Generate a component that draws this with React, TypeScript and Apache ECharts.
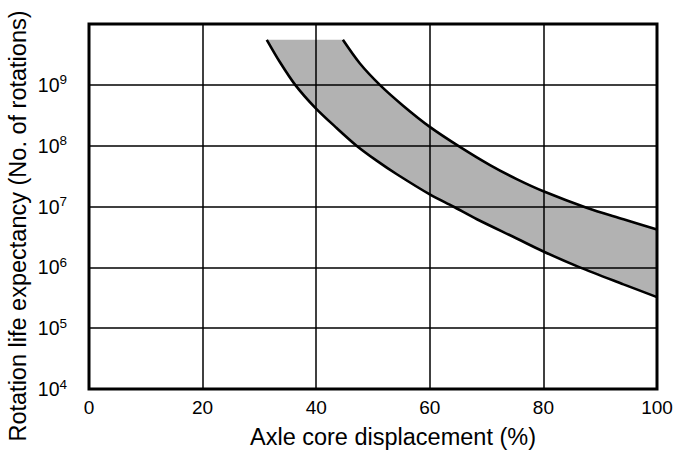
import React, { useEffect, useRef } from "react";
import * as echarts from "echarts";

const xTicks = [0, 20, 40, 60, 80, 100];
const yExponents = [4, 5, 6, 7, 8, 9];
const xAxisTitle = "Axle core displacement (%)";
const yAxisTitle = "Rotation life expectancy (No. of rotations)";

// lower (left) boundary of the band: [displacement %, rotations]
const lowerCurve: [number, number][] = [
  [31.3, 5.5e9],
  [33.6, 2.37e9],
  [36.3, 1.0e9],
  [39.8, 4.23e8],
  [43.6, 1.95e8],
  [47.1, 1.0e8],
  [50.7, 5.62e7],
  [54.2, 3.39e7],
  [60.0, 1.58e7],
  [64.1, 1.0e7],
  [68.3, 6.17e6],
  [75.3, 2.98e6],
  [80.0, 1.82e6],
  [86.4, 1.0e6],
  [94.1, 5.25e5],
  [100, 3.24e5],
];

// upper (right) boundary of the band
const upperCurve: [number, number][] = [
  [44.7, 5.5e9],
  [47.7, 2.24e9],
  [51.2, 1.0e9],
  [55.3, 4.55e8],
  [60.0, 2.04e8],
  [65.3, 9.55e7],
  [70.6, 4.79e7],
  [75.3, 2.82e7],
  [80.0, 1.78e7],
  [87.6, 9.55e6],
  [94.1, 6.17e6],
  [100, 4.17e6],
];

export default function App() {
  const ref = useRef<HTMLDivElement>(null);
  useEffect(() => {
    if (!ref.current) return;
    const chart = echarts.init(ref.current, undefined, { renderer: "svg" });
    const font = "Liberation Sans, Arial, sans-serif";
    chart.setOption({
      animation: false,
      backgroundColor: "#fff",
      grid: {
        left: 89,
        right: 21,
        top: 24,
        bottom: 66,
        show: true,
        borderColor: "#000",
        borderWidth: 3,
        backgroundColor: "transparent",
      },
      graphic: [
        {
          type: "text",
          x: 393,
          y: 437,
          style: {
            text: xAxisTitle,
            fontFamily: font,
            fontSize: 23.5,
            fill: "#000",
            align: "center",
            verticalAlign: "middle",
          },
        },
        {
          type: "text",
          x: 18,
          y: 226,
          rotation: Math.PI / 2,
          style: {
            text: yAxisTitle,
            fontFamily: font,
            fontSize: 23.5,
            fill: "#000",
            align: "center",
            verticalAlign: "middle",
          },
        },
      ],
      xAxis: {
        type: "value",
        min: 0,
        max: 100,
        interval: 20,
        axisLine: { show: false },
        axisTick: { show: false },
        axisLabel: {
          fontFamily: font,
          fontSize: 19,
          color: "#000",
          margin: 9,
          formatter: (v: number) => (xTicks.includes(v) ? String(v) : ""),
        },
        splitLine: { show: true, lineStyle: { color: "#000", width: 1.5 } },
      },
      yAxis: {
        type: "log",
        logBase: 10,
        min: 1e4,
        max: 1e10,
        axisLine: { show: false },
        axisTick: { show: false },
        axisLabel: {
          margin: 22,
          formatter: (v: number) => {
            const e = Math.round(Math.log10(v));
            if (!yExponents.includes(e)) return "";
            return "{b|10}{s|" + String(e) + "}";
          },
          rich: {
            b: { fontFamily: font, fontSize: 19.5, color: "#000" },
            s: { fontFamily: font, fontSize: 13.5, color: "#000", padding: [0, 0, 10, 0] },
          },
        },
        splitLine: { show: true, lineStyle: { color: "#000", width: 1.5 } },
      },
      series: [
        {
          type: "custom",
          data: [[0, 1e6]],
          z: 1,
          renderItem: (_params: any, api: any) => {
            const pts: number[][] = [];
            upperCurve.forEach((p) => pts.push(api.coord(p)));
            for (let i = lowerCurve.length - 1; i >= 0; i--) pts.push(api.coord(lowerCurve[i]));
            return {
              type: "polygon",
              shape: { points: pts },
              style: { fill: "rgba(0,0,0,0.3)", stroke: "none" },
            };
          },
        },
        {
          type: "line",
          data: lowerCurve,
          smooth: 0.3,
          showSymbol: false,
          z: 3,
          lineStyle: { color: "#000", width: 2.6 },
        },
        {
          type: "line",
          data: upperCurve,
          smooth: 0.3,
          showSymbol: false,
          z: 3,
          lineStyle: { color: "#000", width: 2.6 },
        },
      ],
    });
    return () => chart.dispose();
  }, []);
  return (
    <div
      ref={ref}
      style={{ position: "fixed", left: 0, top: 0, width: 678, height: 455 }}
    />
  );
}
